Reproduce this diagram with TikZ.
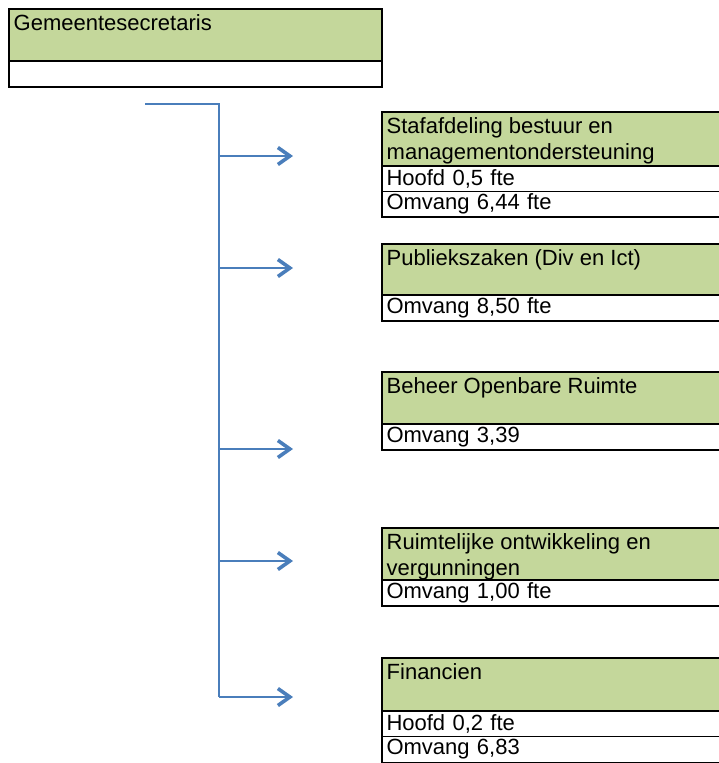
\documentclass[tikz,border=0pt]{standalone}
\usepackage{fontspec}
\setmainfont{Liberation Sans}
\usepackage{tikz}
\usetikzlibrary{arrows.meta,positioning}
\definecolor{kopgroen}{RGB}{196,215,155}
\definecolor{lijnblauw}{RGB}{74,126,187}
\tikzset{
every node/.style={font=\fontsize{22}{26}\selectfont}, % Arial-like text everywhere
kop/.style={draw, line width=1.3pt, fill=kopgroen, outer sep=0pt, inner sep=0pt, anchor=north west}, % green header cell
koptekst/.style={anchor=north west, inner xsep=4.5pt, inner ysep=5pt, align=left}, % text at the top of a header
regel/.style={draw, line width=1.3pt, fill=white, outer sep=0pt, inner xsep=4.5pt, inner ysep=0pt, align=left, minimum height=25.5pt, text width=336pt}, % white row under a header
tak/.style={lijnblauw, line width=2pt}, % blue tree lines
pijl/.style={tak, -{Straight Barb[length=12pt, width=17pt, line width'=3.6pt]}}, % open chevron arrow
}
\begin{document}
\begin{tikzpicture}[x=1pt,y=-1pt]
		\useasboundingbox (0,0) rectangle (719,763);
		\node[kop, minimum width=373, minimum height=52] (secr) at (9,9) {};
		\node[koptekst] (secrT) at (secr.north west) {Gemeentesecretaris};
		\node[regel, text width=364pt, minimum height=26pt, below=0pt of secr] (secrR) {};

		\node[kop, minimum width=345, minimum height=54] (staf) at (382,112) {};
		\node[koptekst] (stafT) at (staf.north west) {Stafafdeling bestuur en\\managementondersteuning};
		\node[regel, below=0pt of staf] (stafH) {Hoofd 0,5 fte};
		\node[regel, below=0pt of stafH] (stafO) {Omvang 6,44 fte};

		\node[kop, minimum width=345, minimum height=51] (pub) at (382,244) {};
		\node[koptekst] (pubT) at (pub.north west) {Publiekszaken (Div en Ict)};
		\node[regel, minimum height=26pt, below=0pt of pub] (pubO) {Omvang 8,50 fte};

		\node[kop, minimum width=345, minimum height=52] (beheer) at (382,372) {};
		\node[koptekst] (beheerT) at (beheer.north west) {Beheer Openbare Ruimte};
		\node[regel, minimum height=26pt, below=0pt of beheer] (beheerO) {Omvang 3,39};

		\node[kop, minimum width=345, minimum height=52] (ruimte) at (382,528) {};
		\node[koptekst] (ruimteT) at (ruimte.north west) {Ruimtelijke ontwikkeling en\\vergunningen};
		\node[regel, minimum height=26pt, below=0pt of ruimte] (ruimteO) {Omvang 1,00 fte};

		\node[kop, minimum width=345, minimum height=53] (fin) at (382,658) {};
		\node[koptekst] (finT) at (fin.north west) {Financien};
		\node[regel, below=0pt of fin] (finH) {Hoofd 0,2 fte};
		\node[regel, minimum height=26pt, below=0pt of finH] (finO) {Omvang 6,83};

		\coordinate (start) at (145,104);
		\coordinate (hoek) at (219,104);
		\coordinate (einde) at (219,697);
		\draw[tak] (start) -- (hoek) -- (einde);
		\foreach \y/\naam in {156/staf, 268/pub, 449/beheer, 561/ruimte, 697/fin} {
			\coordinate (tak\naam) at (219,\y);
			\coordinate (pijl\naam) at (293,\y);
			\draw[pijl] (tak\naam) -- (pijl\naam);
		}
	\end{tikzpicture}
\end{document}
